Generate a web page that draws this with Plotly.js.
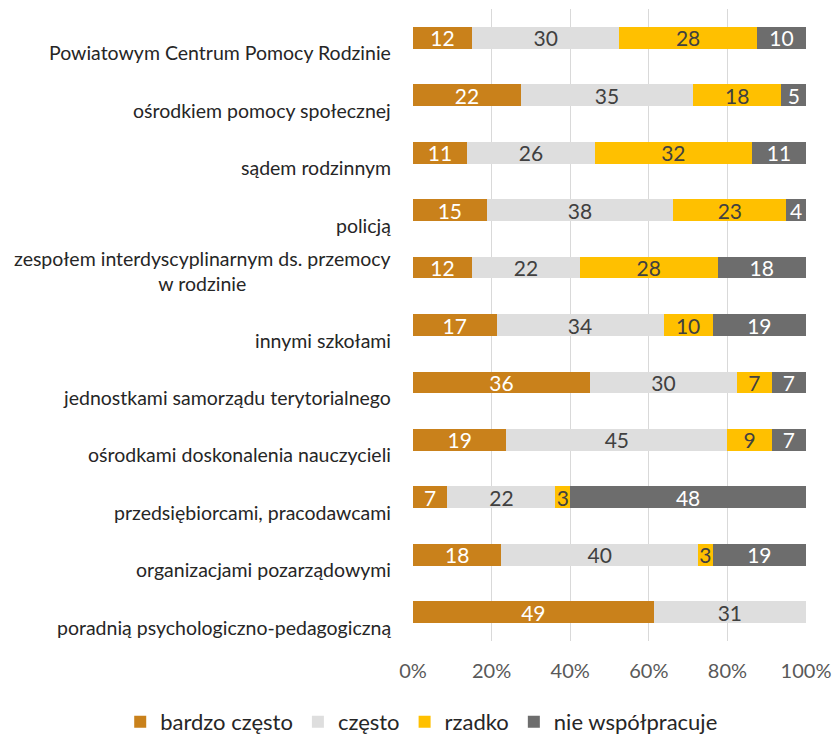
<!DOCTYPE html>
<html>
<head>
<meta charset="utf-8">
<script src="https://cdn.plot.ly/plotly-3.0.1.min.js"></script>
<style>
  html, body { margin: 0; padding: 0; background: #ffffff; }
  #chart { width: 834px; height: 737px; }
</style>
</head>
<body>
<div id="chart"></div>
<script>
// Partners of cooperation (top to bottom)
const categories = [
  "Powiatowym Centrum Pomocy Rodzinie",
  "ośrodkiem pomocy społecznej",
  "sądem rodzinnym",
  "policją",
  "zespołem interdyscyplinarnym ds. przemocy<br>w rodzinie",
  "innymi szkołami",
  "jednostkami samorządu terytorialnego",
  "ośrodkami doskonalenia nauczycieli",
  "przedsiębiorcami, pracodawcami",
  "organizacjami pozarządowymi",
  "poradnią psychologiczno-pedagogiczną"
];

// Number of answers per frequency of cooperation
const bardzoCzesto    = [12, 22, 11, 15, 12, 17, 36, 19, 7, 18, 49];
const czesto          = [30, 35, 26, 38, 22, 34, 30, 45, 22, 40, 31];
const rzadko          = [28, 18, 32, 23, 28, 10, 7, 9, 3, 3, 0];
const nieWspolpracuje = [10, 5, 11, 4, 18, 19, 7, 7, 48, 19, 0];

const seriesNames = ["bardzo często", "często", "rzadko", "nie współpracuje"];
const tickValues = [0, 20, 40, 60, 80, 100];
const tickLabels = ["0%", "20%", "40%", "60%", "80%", "100%"];

const FONT = "Lato, 'Open Sans', sans-serif";
const colors = ["#C9811B", "#DEDEDE", "#FFC000", "#6D6D6D"];
const textColors = ["#ffffff", "#404040", "#404040", "#ffffff"];
const values = [bardzoCzesto, czesto, rzadko, nieWspolpracuje];

const traces = values.map((vals, i) => ({
  type: "bar",
  orientation: "h",
  name: seriesNames[i],
  y: categories,
  x: vals,
  text: vals.map(v => (v > 0 ? String(v) : "")),
  textposition: "inside",
  insidetextanchor: "middle",
  textangle: 0,
  constraintext: "none",
  cliponaxis: false,
  textfont: { family: FONT, size: 21, color: textColors[i] },
  marker: { color: colors[i], line: { width: 0 } },
  hoverinfo: "skip"
}));

// Category labels, drawn to the left of the bars
const labelAnnotations = categories.map(c => ({
  xref: "paper",
  yref: "y",
  x: 0,
  y: c,
  xanchor: "right",
  yanchor: "middle",
  xshift: -20,
  yshift: c.indexOf("<br>") >= 0 ? -3 : -15,
  align: "center",
  showarrow: false,
  text: c,
  font: { family: FONT, size: 19.5, color: "#262626" }
}));

const layout = {
  width: 834,
  height: 737,
  margin: { l: 413, r: 28, t: 9, b: 96, autoexpand: false },
  paper_bgcolor: "#ffffff",
  plot_bgcolor: "#ffffff",
  barmode: "stack",
  barnorm: "percent",
  bargap: 0.62,
  showlegend: true,
  legend: {
    orientation: "h",
    xref: "paper",
    yref: "paper",
    x: -0.745,
    xanchor: "left",
    y: -0.095,
    yanchor: "top",
    font: { family: FONT, size: 22, color: "#262626" },
    itemwidth: 30,
    tracegroupgap: 0,
    traceorder: "normal"
  },
  xaxis: {
    range: [0, 100],
    tickvals: tickValues,
    ticktext: tickLabels,
    showgrid: true,
    gridcolor: "#D9D9D9",
    gridwidth: 1,
    zeroline: false,
    showline: false,
    ticks: "",
    ticklabelstandoff: 16,
    tickfont: { family: FONT, size: 20, color: "#595959" },
    automargin: false,
    fixedrange: true
  },
  yaxis: {
    autorange: "reversed",
    showticklabels: false,
    showgrid: false,
    zeroline: false,
    ticks: "",
    automargin: false,
    fixedrange: true
  },
  annotations: labelAnnotations
};

Plotly.newPlot("chart", traces, layout, { displayModeBar: false, staticPlot: true });
</script>
</body>
</html>
